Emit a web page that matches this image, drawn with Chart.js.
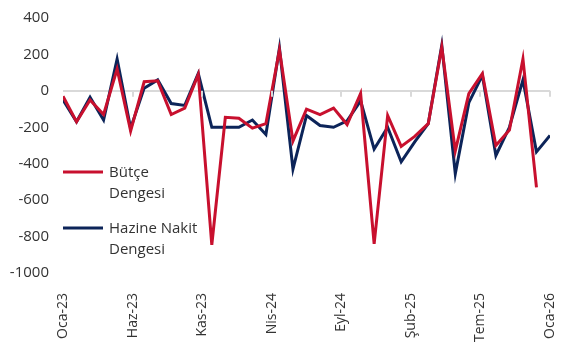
<!DOCTYPE html>
<html lang="tr">
<head>
  <meta charset="UTF-8">
  <title>Bütçe ve Hazine Nakit Dengesi</title>
  <script src="https://cdn.jsdelivr.net/npm/chart.js"></script>
  <style>
    body { margin: 0; background: #fff; }
    #wrap { width: 563px; height: 344px; }
  </style>
</head>
<body>
  <div id="wrap"><canvas id="c" width="563" height="344"></canvas></div>
  <script>
    const months = [
      'Oca-23','Şub-23','Mar-23','Nis-23','May-23','Haz-23','Tem-23','Ağu-23','Eyl-23','Eki-23','Kas-23','Ara-23',
      'Oca-24','Şub-24','Mar-24','Nis-24','May-24','Haz-24','Tem-24','Ağu-24','Eyl-24','Eki-24','Kas-24','Ara-24',
      'Oca-25','Şub-25','Mar-25','Nis-25','May-25','Haz-25','Tem-25','Ağu-25','Eyl-25','Eki-25','Kas-25','Ara-25',
      'Oca-26'
    ];
    const butce = [
      -30, -170, -50, -130, 120, -220, 50, 55, -130, -95, 90, -845,
      -145, -150, -205, -180, 225, -275, -100, -130, -95, -185, -15, -840,
      -135, -305, -250, -180, 240, -330, -15, 95, -300, -215, 175, -530,
      null
    ];
    const hazine = [
      -50, -170, -35, -160, 175, -205, 15, 60, -70, -80, 95, -200,
      -200, -200, -160, -240, 235, -430, -135, -190, -200, -165, -55, -320,
      -200, -390, -280, -180, 250, -455, -65, 85, -355, -200, 60, -335,
      -245
    ];
    const seriesNames = [['Bütçe', 'Dengesi'], ['Hazine Nakit', 'Dengesi']];
    const seriesColors = ['#c8102e', '#0c2459'];
    const tickCount = 7; // x labels spread evenly over the axis

    const font = "'Open Sans', 'Noto Sans', sans-serif";
    const textColor = '#333';

    const toPoints = arr => arr.map((v, i) => ({ x: i, y: v }));

    // small tick marks hanging under the zero line + legend inside plot
    const extras = {
      id: 'extras',
      afterDatasetsDraw(chart) {
        const c = chart.ctx;
        const xs = chart.scales.x, ys = chart.scales.y;
        const y0 = ys.getPixelForValue(0);
        c.save();
        c.strokeStyle = '#d9d9d9';
        c.lineWidth = 2;
        xs.ticks.forEach((t, i) => {
          if (i === 0) return;
          const px = Math.round(xs.getPixelForValue(t.value));
          c.beginPath();
          c.moveTo(px, y0);
          c.lineTo(px, y0 + 6);
          c.stroke();
        });
        // legend
        const ly = [172, 228];
        c.font = '15px ' + font;
        c.fillStyle = textColor;
        c.textBaseline = 'middle';
        chart.data.datasets.forEach((ds, i) => {
          c.strokeStyle = ds.borderColor;
          c.lineWidth = 3;
          c.beginPath();
          c.moveTo(63, ly[i]);
          c.lineTo(103, ly[i]);
          c.stroke();
          seriesNames[i].forEach((line, j) => c.fillText(line, 109, ly[i] + 1 + j * 21));
        });
        c.restore();
      }
    };

    new Chart(document.getElementById('c'), {
      type: 'line',
      data: {
        datasets: [
          { label: 'Bütçe Dengesi', data: toPoints(butce), borderColor: seriesColors[0] },
          { label: 'Hazine Nakit Dengesi', data: toPoints(hazine), borderColor: seriesColors[1] }
        ]
      },
      options: {
        responsive: false,
        animation: false,
        events: [],
        layout: { padding: { top: 18, right: 13, left: 0, bottom: 0 } },
        elements: {
          line: { borderWidth: 3, tension: 0, borderJoinStyle: 'miter' },
          point: { radius: 0 }
        },
        plugins: { legend: { display: false }, tooltip: { enabled: false } },
        scales: {
          x: {
            type: 'linear',
            min: 0,
            max: months.length - 1,
            grid: { display: false },
            border: { display: false },
            afterBuildTicks: scale => {
              const n = months.length - 1;
              scale.ticks = Array.from({ length: tickCount + 1 }, (_, i) => ({ value: i * n / tickCount }));
            },
            afterFit: scale => {
              scale.height = 71;
              scale.paddingLeft = 0;
              scale.paddingRight = 0;
            },
            ticks: {
              autoSkip: false,
              minRotation: 90,
              maxRotation: 90,
              padding: 12,
              color: textColor,
              font: { family: font, size: 14 },
              callback: v => months[Math.floor(v + 1e-6)]
            }
          },
          y: {
            min: -1000,
            max: 400,
            ticks: {
              stepSize: 200,
              padding: 14,
              color: textColor,
              font: { family: font, size: 15 },
              callback: v => String(v)
            },
            afterFit: scale => {
              scale.width = 63;
              scale.paddingTop = 0;
              scale.paddingBottom = 0;
            },
            border: { display: false },
            grid: {
              drawTicks: false,
              lineWidth: 2,
              color: ctx => ctx.tick && ctx.tick.value === 0 ? '#d9d9d9' : 'transparent'
            }
          }
        }
      },
      plugins: [extras]
    });
  </script>
</body>
</html>
